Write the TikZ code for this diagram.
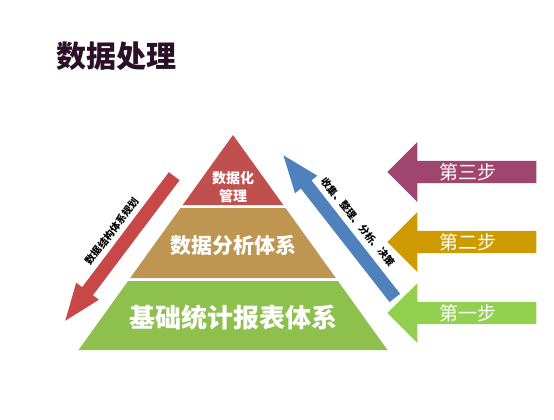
\documentclass[tikz,border=0pt]{standalone}
\usepackage{fontspec}
\setmainfont{Noto Sans CJK SC}
\usepackage{xcolor}
\usetikzlibrary{shapes.arrows}
\definecolor{titleink}{RGB}{43,16,40}
\definecolor{topred}{RGB}{192,80,77}
\definecolor{midtan}{RGB}{190,150,82}
\definecolor{basegreen}{RGB}{142,192,78}
\definecolor{downred}{RGB}{200,72,72}
\definecolor{upblue}{RGB}{79,129,189}
\definecolor{stepplum}{RGB}{160,70,110}
\definecolor{stepgold}{RGB}{205,155,0}
\definecolor{stepgreen}{RGB}{146,208,80}

\begin{document}
\begin{tikzpicture}[x=1pt,y=-1pt,
    layertext/.style={text=white,font=\bfseries},
    steparrow/.style={single arrow,shape border rotate=180,text=white,inner sep=0pt,
        minimum height=149pt,minimum width=60pt,single arrow head extend=15.5pt,
        font=\fontsize{19}{19}\selectfont},
    sidearrow/.style={single arrow,inner xsep=0pt,inner ysep=6.5pt,minimum height=181pt,
        single arrow head extend=7.5pt,single arrow tip angle=42},
    sidetext/.style={font=\bfseries\fontsize{10}{10}\selectfont,inner sep=0pt}]
			\useasboundingbox (0,0) rectangle (554,420);
			\node[anchor=west,text=titleink,font=\bfseries\fontsize{30}{30}\selectfont] (title) at (53,56) {数据处理};
			\fill[topred] (233,135) -- (283.3,205) -- (182.7,205) -- cycle;
			\fill[midtan] (180.5,208) -- (285.5,208) -- (335.8,278) -- (130.2,278) -- cycle;
			\fill[basegreen] (128.1,281) -- (337.9,281) -- (387.5,350) -- (78.5,350) -- cycle;
			\node[layertext,font=\bfseries\fontsize{14}{18}\selectfont,align=center] (top) at (233,187) {数据化\\管理};
			\node[layertext,font=\bfseries\fontsize{21}{21}\selectfont] (mid) at (233,245) {数据分析体系};
			\node[layertext,font=\bfseries\fontsize{26}{26}\selectfont] (base) at (233,318) {基础统计报表体系};
			\node[sidearrow,fill=downred,rotate=233] (down) at (125,241.5) {};
			\node[sidearrow,fill=upblue,rotate=128] (up) at (344.5,233.5) {};
			\node[sidetext,rotate=53] (downlabel) at (112,231) {数据结构体系规划};
			\node[sidetext,rotate=-51] (uplabel) at (358,222) {收集、整理、分析、决策};
			\node[steparrow,fill=stepplum] (third) at (467.5,172) {第三步};
			\node[steparrow,fill=stepgold] (second) at (467.5,242) {第二步};
			\node[steparrow,fill=stepgreen] (first) at (467.5,313) {第一步};
		\end{tikzpicture}
\end{document}
